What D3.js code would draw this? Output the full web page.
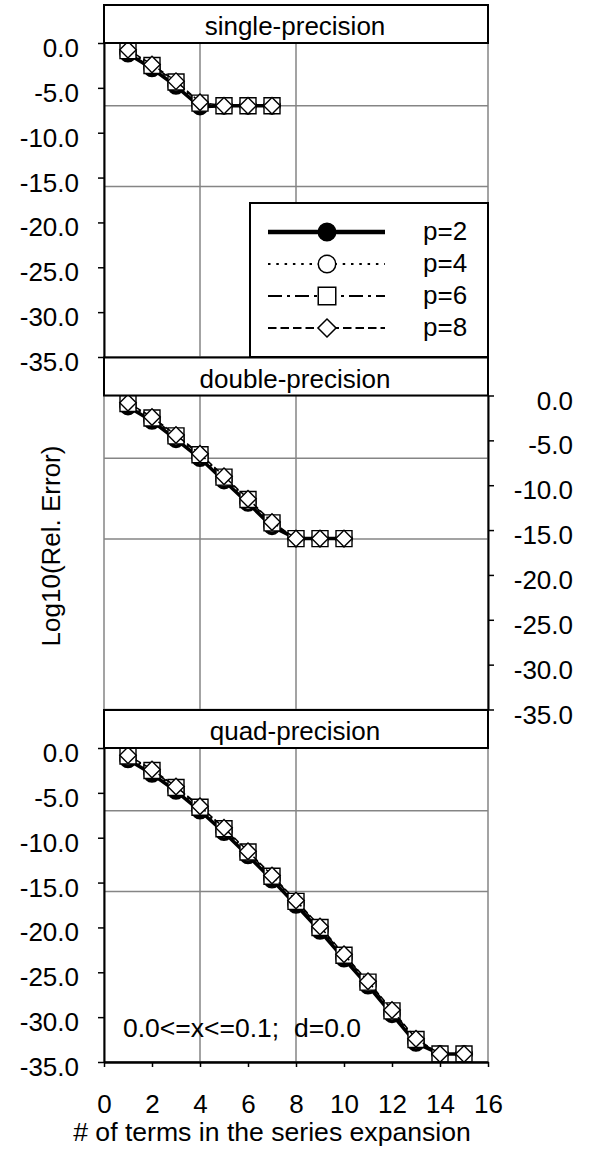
<!DOCTYPE html>
<html>
<head>
<meta charset="utf-8">
<script src="https://cdn.jsdelivr.net/npm/d3@7"></script>
<style>
  html, body { margin: 0; padding: 0; background: #fff; }
  svg { display: block; font-family: "Liberation Sans", Arial, sans-serif; }
</style>
</head>
<body>
<div id="chart"></div>
<script>
// Chart data
const panelNames = ['single-precision', 'double-precision', 'quad-precision'];
const seriesNames = ['p=2', 'p=4', 'p=6', 'p=8'];
const xTicks = [0, 2, 4, 6, 8, 10, 12, 14, 16];
const yTicks = [0, -5, -10, -15, -20, -25, -30, -35];
const xGrid = [4, 8];
const yGrid = [-7, -16];

// single precision, x = 1..7
const singleP2 = [-1.2, -2.85, -4.8, -7.1, -7.0, -7.0, -7.0];
const singleP4 = [-0.95, -2.6, -4.5, -6.8, -7.0, -7.0, -7.0];
const singleP6 = [-0.85, -2.5, -4.35, -6.7, -7.0, -7.0, -7.0];
const singleP8 = [-0.75, -2.4, -4.25, -6.6, -7.0, -7.0, -7.0];

// double precision, x = 1..10
const doubleP2 = [-1.25, -2.85, -4.9, -7.0, -9.5, -12.0, -14.6, -15.95, -15.95, -15.95];
const doubleP4 = [-1.0, -2.6, -4.65, -6.75, -9.25, -11.8, -14.35, -15.95, -15.95, -15.95];
const doubleP6 = [-0.9, -2.5, -4.5, -6.6, -9.1, -11.6, -14.2, -15.95, -15.95, -15.95];
const doubleP8 = [-0.8, -2.4, -4.4, -6.5, -9.0, -11.5, -14.1, -15.95, -15.95, -15.95];

// quad precision, x = 1..15
const quadP2 = [-1.3, -2.9, -4.8, -7.0, -9.4, -12.0, -14.7, -17.5, -20.4, -23.5, -26.5, -29.7, -32.9, -34.1, -34.1];
const quadP4 = [-1.05, -2.65, -4.55, -6.75, -9.15, -11.75, -14.45, -17.25, -20.15, -23.25, -26.25, -29.45, -32.65, -34.1, -34.1];
const quadP6 = [-0.9, -2.5, -4.4, -6.6, -9.0, -11.6, -14.3, -17.1, -20.0, -23.1, -26.1, -29.3, -32.5, -34.1, -34.1];
const quadP8 = [-0.8, -2.4, -4.3, -6.5, -8.9, -11.5, -14.2, -17.0, -19.9, -23.0, -26.0, -29.2, -32.4, -34.1, -34.1];

const panelSeries = [
  [singleP2, singleP4, singleP6, singleP8],
  [doubleP2, doubleP4, doubleP6, doubleP8],
  [quadP2, quadP4, quadP6, quadP8]
];

// Layout
const width = 592, height = 1151;
const left = 104, right = 488;
const panelTop = [5, 357.5, 710];
const headerH = 38;
const plotH = 314;
const fontSize = 26;
const grey = '#858585';

// series styles: p=2 solid thick filled circle, p=4 dotted circle, p=6 dash-dot square, p=8 dashed diamond
const styles = [
  { width: 3.5, dash: null, legendDash: null, legendWidth: 4.5, symbol: d3.symbolCircle, size: 200, fill: '#000', rotate: 0 },
  { width: 1.5, dash: '2,4', legendDash: '2.5,5.8', legendWidth: 2, symbol: d3.symbolCircle, size: 200, fill: '#fff', rotate: 0 },
  { width: 1.5, dash: '10,3,2,3', legendDash: '14,5,3,5', legendWidth: 2, symbol: d3.symbolSquare, size: 256, fill: '#fff', rotate: 0 },
  { width: 1.5, dash: '6,3', legendDash: '8.5,4', legendWidth: 2, symbol: d3.symbolSquare, size: 136, fill: '#fff', rotate: 45 }
];

const fmt = d3.formatLocale({ decimal: '.', thousands: ',', grouping: [3], currency: ['', ''], minus: '-' }).format('.1f');

const svg = d3.select('#chart')
  .append('svg')
  .attr('width', width)
  .attr('height', height)
  .attr('viewBox', `0 0 ${width} ${height}`);

const xScale = d3.scaleLinear().domain([0, 16]).range([left, right]);

panelSeries.forEach((series, i) => {
  const top = panelTop[i];
  const plotTop = top + headerH;
  const plotBottom = plotTop + plotH;
  const yScale = d3.scaleLinear().domain([0, -35]).range([plotTop, plotBottom]);
  const g = svg.append('g').attr('class', 'panel');

  // plot area border
  g.append('rect')
    .attr('x', left).attr('y', plotTop)
    .attr('width', right - left).attr('height', plotH)
    .attr('fill', 'none').attr('stroke', grey).attr('stroke-width', 1.5);

  // gridlines
  g.selectAll('.vgrid').data(xGrid).join('line')
    .attr('x1', d => xScale(d)).attr('x2', d => xScale(d))
    .attr('y1', plotTop).attr('y2', plotBottom)
    .attr('stroke', grey).attr('stroke-width', 1.5);
  g.selectAll('.hgrid').data(yGrid).join('line')
    .attr('x1', left).attr('x2', right)
    .attr('y1', d => yScale(d)).attr('y2', d => yScale(d))
    .attr('stroke', grey).attr('stroke-width', 1.5);

  // series
  const line = d3.line().x((d, k) => xScale(k + 1)).y(d => yScale(d));
  series.forEach((values, s) => {
    const st = styles[s];
    g.append('path')
      .datum(values)
      .attr('d', line)
      .attr('fill', 'none')
      .attr('stroke', '#000')
      .attr('stroke-width', st.width)
      .attr('stroke-dasharray', st.dash);
    g.append('g').selectAll('path').data(values).join('path')
      .attr('d', d3.symbol(st.symbol, st.size))
      .attr('transform', (d, k) => `translate(${xScale(k + 1)},${yScale(d)}) rotate(${st.rotate})`)
      .attr('fill', st.fill)
      .attr('stroke', '#000')
      .attr('stroke-width', 1.4);
  });

  // y axis: left on top and bottom panel, right on middle
  const onRight = i === 1;
  const yAxis = (onRight ? d3.axisRight(yScale) : d3.axisLeft(yScale))
    .tickValues(yTicks).tickFormat(fmt).tickSize(6).tickSizeOuter(0);
  const ya = g.append('g')
    .attr('transform', `translate(${onRight ? right : left},0)`)
    .call(yAxis);
  ya.select('.domain').attr('stroke', '#000').attr('stroke-width', 2);
  ya.selectAll('.tick line').attr('stroke', '#000').attr('stroke-width', 1.5);
  ya.selectAll('.tick text')
    .attr('x', onRight ? 85 : -25).attr('dy', null).attr('y', 13.5)
    .attr('text-anchor', 'end')
    .attr('font-size', fontSize)
    .attr('font-family', '"Liberation Sans", Arial, sans-serif')
    .attr('fill', '#000');

  // x axis only under the last panel
  if (i === 2) {
    const xa = g.append('g')
      .attr('transform', `translate(0,${plotBottom})`)
      .call(d3.axisBottom(xScale).tickValues(xTicks).tickFormat(d3.format('d')).tickSize(5).tickSizeOuter(0));
    xa.select('.domain').attr('stroke', '#000').attr('stroke-width', 2.5);
    xa.selectAll('.tick line').attr('stroke', '#000').attr('stroke-width', 1.5);
    xa.selectAll('.tick text')
      .attr('dy', null).attr('y', 50.5)
      .attr('font-size', fontSize)
      .attr('font-family', '"Liberation Sans", Arial, sans-serif')
      .attr('fill', '#000');
  }

  // header box with panel name
  g.append('rect')
    .attr('x', left).attr('y', top)
    .attr('width', right - left).attr('height', headerH)
    .attr('fill', '#fff').attr('stroke', '#000').attr('stroke-width', 2);
  g.append('text')
    .attr('x', (left + right) / 2 - 1).attr('y', top + headerH - 8)
    .attr('text-anchor', 'middle')
    .attr('font-size', fontSize)
    .text(panelNames[i]);
});

// legend in the single-precision panel
const legendRows = [232, 264, 296, 328];
const legend = svg.append('g').attr('class', 'legend');
legend.append('rect')
  .attr('x', 250).attr('y', 203).attr('width', 238).attr('height', 154)
  .attr('fill', '#fff').attr('stroke', '#000').attr('stroke-width', 2);
seriesNames.forEach((name, s) => {
  const st = styles[s];
  const y = legendRows[s];
  legend.append('line')
    .attr('x1', 268).attr('x2', 385).attr('y1', y).attr('y2', y)
    .attr('stroke', '#000').attr('stroke-width', st.legendWidth)
    .attr('stroke-dasharray', st.legendDash);
  legend.append('path')
    .attr('d', d3.symbol(st.symbol, st.size * 1.2))
    .attr('transform', `translate(327,${y}) rotate(${st.rotate})`)
    .attr('fill', st.fill).attr('stroke', '#000').attr('stroke-width', 1.5);
  legend.append('text')
    .attr('x', 423).attr('y', y + 7.5)
    .attr('font-size', fontSize)
    .text(name);
});

// annotation in the quad-precision panel
svg.append('text')
  .attr('x', 123).attr('y', 1036.5)
  .attr('font-size', 26.5)
  .attr('xml:space', 'preserve')
  .style('white-space', 'pre')
  .text('0.0<=x<=0.1;  d=0.0');

// axis titles
svg.append('text')
  .attr('transform', 'translate(60,546) rotate(-90)')
  .attr('text-anchor', 'middle')
  .attr('font-size', fontSize)
  .text('Log10(Rel. Error)');

svg.append('text')
  .attr('x', 272).attr('y', 1141)
  .attr('text-anchor', 'middle')
  .attr('font-size', 26.6)
  .text('# of terms in the series expansion');
</script>
</body>
</html>
